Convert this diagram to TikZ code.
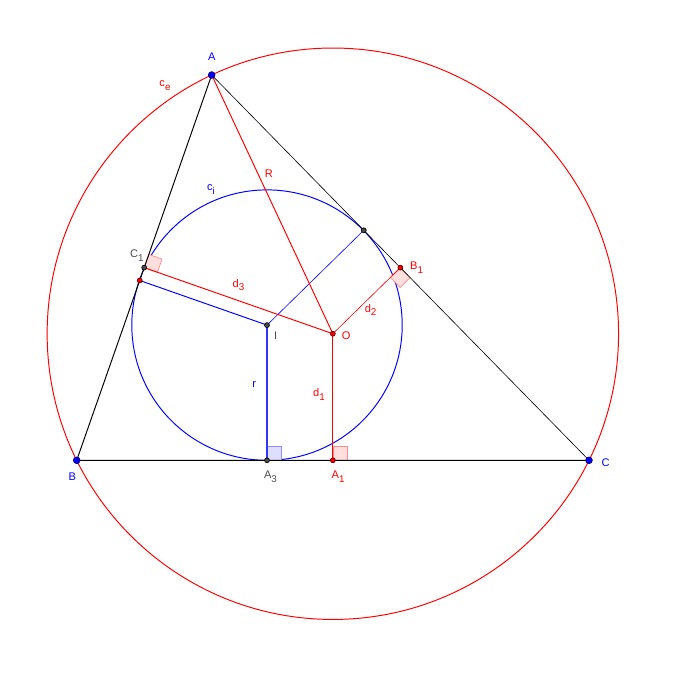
\documentclass[tikz,border=0pt]{standalone}
\usepackage{fontspec}
\setmainfont{Liberation Sans}
\usetikzlibrary{calc,positioning}

\tikzset{
	ptblue/.style={circle,fill=blue,draw=blue!45!black,inner sep=0pt,minimum size=3.8pt},
	ptgray/.style={circle,fill=black!70,draw=black,inner sep=0pt,minimum size=2.8pt},
	ptred/.style={circle,fill=red,draw=red!35!black,inner sep=0pt,minimum size=2.8pt},
	lblblue/.style={text=blue},
	lblred/.style={text=red},
	lblgray/.style={text=black!70},
	seg/.style={line width=0.55pt},
	thinseg/.style={line width=0.35pt},
}

% right angle square: foot, towards, along, colour
\newcommand{\perpmark}[4]{%
	\coordinate (m1) at ($(#1)!0.28cm!(#2)$);
	\coordinate (m2) at ($(#1)!0.28cm!(#3)$);
	\draw[#4!45,fill=#4!13,line width=0.4pt] (#1) -- (m1) -- ($(m1)+(m2)-(#1)$) -- (m2) -- cycle;}
% lowered index, nearly full size
\newcommand{\lsub}[1]{\raisebox{-0.6ex}{\fontsize{5.6}{6}\selectfont#1}}

\begin{document}
\begin{tikzpicture}[every node/.style={font=\fontsize{6.3}{7.5}\selectfont}]
	\useasboundingbox (0,0) rectangle (13.76,13.98);
	% the triangle and its centres
	\coordinate (A) at (4.234,12.48);
	\coordinate (B) at (1.534,4.774);
	\coordinate (C) at (11.78,4.774);
	\coordinate (O) at (6.657,7.305);
	\coordinate (I) at (5.34,7.478);
	%% feet of the perpendiculars
	\coordinate (C1) at ($(A)!(O)!(B)$);
	\coordinate (B1) at ($(A)!(O)!(C)$);
	\coordinate (A1) at ($(B)!(O)!(C)$);
	\coordinate (A3) at ($(B)!(I)!(C)$);
	\coordinate (Tc) at ($(A)!(I)!(B)$);
	\coordinate (Tb) at ($(A)!(I)!(C)$);

	%% circles
	\draw[red,seg] (O) circle (5.714);
	\draw[blue,seg] (I) circle (2.704);
	\node[lblred] (ce) at (3.3,12.27) {c\lsub{e}};
	\node[lblblue] (ci) at (4.22,10.19) {c\lsub{i}};

	%% right angles
	\perpmark{C1}{O}{A}{red}
	\perpmark{B1}{O}{C}{red}
	\perpmark{A1}{O}{C}{red}
	\perpmark{A3}{I}{C}{blue}

	%% triangle
	\draw[seg] (A) -- (B) -- (C);
	\draw[thinseg] (C) -- (A);

	%% radii and distances
	\draw[blue,seg] (I) -- (Tc);
	\draw[blue,thinseg] (I) -- (Tb);
	\draw[blue!80!white,line width=0.8pt] (I) -- node[lblblue,pos=0.44,left=2.5pt] (lr) {r} (A3);
	\draw[red,seg] (A) -- node[lblred,pos=0.38,right=0.5pt] (lR) {R} (O);
	\draw[red,seg] (O) -- node[lblred,pos=0.48,left=1pt] (ld1) {d\lsub{1}} (A1);
	\draw[red,thinseg] (O) -- node[lblred,midway,xshift=2.3pt,yshift=-5.4pt] (ld2) {d\lsub{2}} (B1);
	\draw[red,seg] (O) -- node[lblred,midway,above=2pt] (ld3) {d\lsub{3}} (C1);

	%% the points
	\node[ptblue,label={[lblblue,label distance=2.5pt]above:A}] (pA) at (A) {};
	\node[ptblue,label={[lblblue,label distance=1.5pt,xshift=-2.5pt]below:B}] (pB) at (B) {};
	\node[ptblue,label={[lblblue,label distance=1.5pt,yshift=-1.5pt]right:C}] (pC) at (C) {};
	\node[ptred,label={[lblred,label distance=0pt,yshift=-1pt]right:O}] (pO) at (O) {};
	\node[ptgray,label={[lblgray,label distance=-1pt]-25:I}] (pI) at (I) {};
	\node[ptgray,label={[lblgray,label distance=-1.5pt,xshift=-4.2pt]above:C\lsub{1}}] (pC1) at (C1) {};
	\node[ptred,label={[lblred,label distance=0.5pt]right:B\lsub{1}}] (pB1) at (B1) {};
	\node[ptred,label={[lblred,label distance=1pt,xshift=3pt]below:A\lsub{1}}] (pA1) at (A1) {};
	\node[ptgray,label={[lblgray,label distance=1pt,xshift=2pt]below:A\lsub{3}}] (pA3) at (A3) {};
	\node[ptred] (pTc) at (Tc) {};
	\node[ptgray] (pTb) at (Tb) {};
\end{tikzpicture}
\end{document}
